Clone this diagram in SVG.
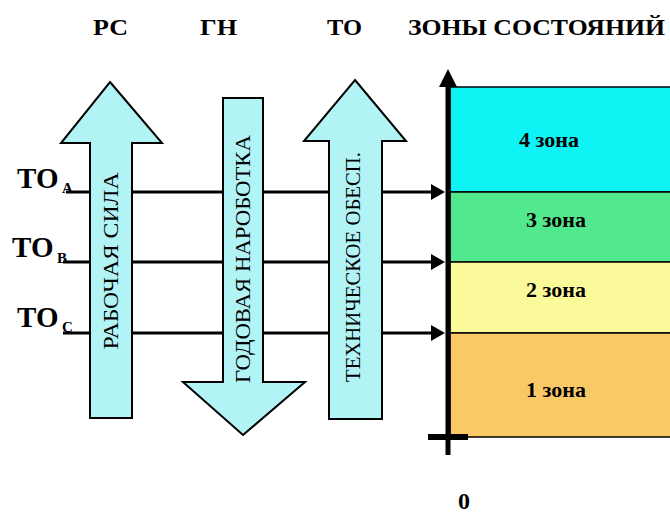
<svg xmlns="http://www.w3.org/2000/svg" width="670" height="515" viewBox="0 0 670 515">
<defs>
<style>
text{font-family:'Liberation Serif','Times New Roman','DejaVu Serif',serif;fill:#000}
.hd{font-weight:bold;font-size:23px}
.to{font-weight:bold;font-size:29px}
.sub{font-weight:bold;font-size:15px}
.zl{font-weight:bold;font-size:22px;text-anchor:middle}
.at{font-size:21px;text-anchor:middle}
.blk{fill:#b2f3f6;stroke:#000;stroke-width:2;stroke-linejoin:miter}
.ln{stroke:#000;stroke-width:3;fill:none}
.zb{stroke:#000;stroke-width:1.5}
</style>
<marker id="ah" markerWidth="14" markerHeight="16" refX="1" refY="8" orient="auto" markerUnits="userSpaceOnUse">
<path d="M0,0 L14,8 L0,16 Z" fill="#000"/>
</marker>
</defs>
<rect width="670" height="515" fill="#fff"/>

<g id="headers">
<text class="hd" x="93" y="35" textLength="35" lengthAdjust="spacingAndGlyphs">РС</text>
<text class="hd" x="200" y="35" textLength="37" lengthAdjust="spacingAndGlyphs">ГН</text>
<text class="hd" x="327" y="35" textLength="35" lengthAdjust="spacingAndGlyphs">ТО</text>
<text class="hd" x="408" y="35" textLength="257" lengthAdjust="spacingAndGlyphs">ЗОНЫ СОСТОЯНИЙ</text>
</g>

<g id="connectors">
<line class="ln" x1="66" y1="192" x2="432" y2="192" marker-end="url(#ah)"/>
<line class="ln" x1="63" y1="262" x2="432" y2="262" marker-end="url(#ah)"/>
<line class="ln" x1="63" y1="333" x2="432" y2="333" marker-end="url(#ah)"/>
</g>

<g id="label-toa">
<text class="to" x="17" y="188">ТО</text>
<text class="sub" x="62" y="193">А</text>
</g>
<g id="label-tob">
<text class="to" x="12" y="257">ТО</text>
<text class="sub" x="57" y="263">В</text>
</g>
<g id="label-toc">
<text class="to" x="17" y="327">ТО</text>
<text class="sub" x="62" y="332">С</text>
</g>

<g id="arrow-rs">
<path class="blk" d="M110,82 L162,143 L132,143 L132,418 L90,418 L90,143 L61,143 Z"/>
<text class="at" transform="translate(118,261) rotate(-90)" textLength="177" lengthAdjust="spacingAndGlyphs">РАБОЧАЯ  СИЛА</text>
</g>

<g id="arrow-gn">
<path class="blk" d="M223,98 L263,98 L263,382 L305,382 L243,435 L183,382 L223,382 Z"/>
<text class="at" transform="translate(250,259) rotate(-90)" textLength="248" lengthAdjust="spacingAndGlyphs">ГОДОВАЯ   НАРОБОТКА</text>
</g>

<g id="arrow-to">
<path class="blk" d="M355,80 L406,141 L382,141 L382,419 L329,419 L329,141 L304,141 Z"/>
<text class="at" transform="translate(360,267) rotate(-90)" textLength="230" lengthAdjust="spacingAndGlyphs">ТЕХНИЧЕСКОЕ ОБЕСП.</text>
</g>

<g id="zone4">
<rect class="zb" x="450" y="87" width="225" height="105" fill="#0ef4f4"/>
<text class="zl" x="549" y="147">4 зона</text>
</g>
<g id="zone3">
<rect class="zb" x="450" y="192" width="225" height="70" fill="#52e88e"/>
<text class="zl" x="556" y="227">3 зона</text>
</g>
<g id="zone2">
<rect class="zb" x="450" y="262" width="225" height="71" fill="#fafa9a"/>
<text class="zl" x="556" y="297">2 зона</text>
</g>
<g id="zone1">
<rect class="zb" x="450" y="333" width="225" height="104" fill="#f9c966"/>
<text class="zl" x="556" y="397">1 зона</text>
</g>

<g id="axis">
<line x1="448" y1="85" x2="448" y2="455" stroke="#000" stroke-width="5"/>
<path d="M448,69 L457,87 L439,87 Z" fill="#000"/>
<line x1="428" y1="437" x2="468" y2="437" stroke="#000" stroke-width="6"/>
<text x="464" y="509" text-anchor="middle" font-weight="bold" font-size="24">0</text>
</g>
</svg>
